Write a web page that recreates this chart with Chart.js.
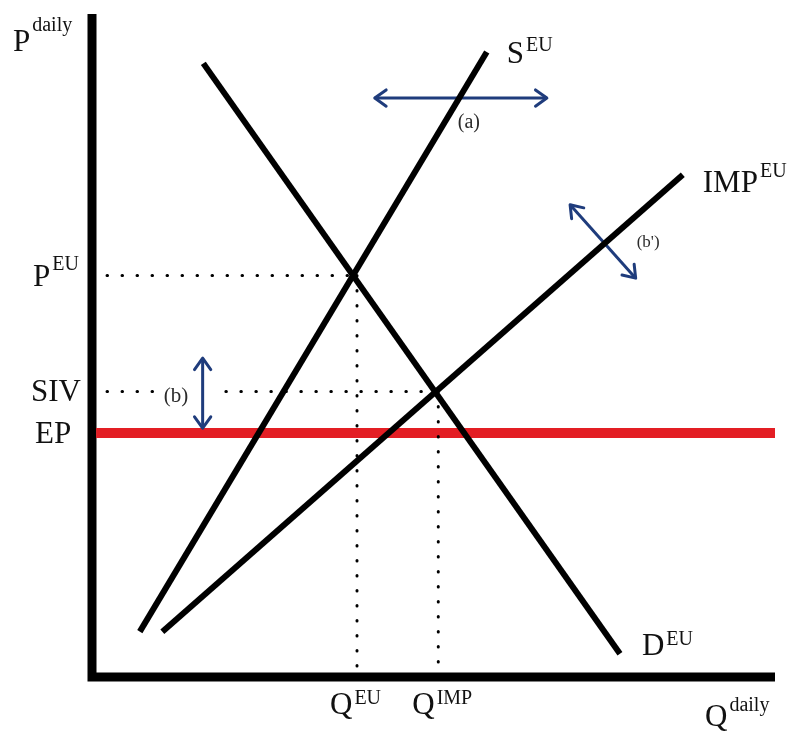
<!DOCTYPE html>
<html>
<head>
<meta charset="utf-8">
<script src="https://cdn.jsdelivr.net/npm/chart.js@4.4.1/dist/chart.umd.min.js"></script>
<style>
  html, body { margin: 0; padding: 0; background: #fff; }
  #chart { display: block; }
</style>
</head>
<body>
<canvas id="chart" width="793" height="731"></canvas>
<script>
// EU market diagram: supply, demand, import curve and entry price

// Curves (quantity, price) on a 0-100 scale
const demandX = [16.3, 77.3];
const demandY = [92.0, 3.5];
const supplyX = [7.0, 57.8];
const supplyY = [6.8, 93.7];
const importX = [10.3, 86.5];
const importY = [6.8, 75.3];

// Key price and quantity levels
const entryPrice = 36.6;   // EP
const sivPrice = 42.8;     // SIV
const euPrice = 60.2;      // P EU
const qEU = 38.8;
const qIMP = 50.7;

// Shift arrows [x1, y1, x2, y2]
const arrowA = [41.4, 86.8, 66.6, 86.8];
const arrowBPrime = [70.0, 70.8, 79.6, 59.8];
const arrowB = [16.2, 47.8, 16.2, 37.3];

const ink = '#000000';
const navy = '#1f3c7c';
const red = '#e31e24';
const serif = '"Liberation Serif", "DejaVu Serif", serif';

const pts = (xs, ys) => xs.map((x, i) => ({ x, y: ys[i] }));

const line = (data, color, width, extra = {}) => Object.assign({
  data,
  borderColor: color,
  borderWidth: width,
  pointRadius: 0,
  fill: false,
  tension: 0,
  clip: false
}, extra);

const dotted = { borderDash: [0.5, 14.5], borderCapStyle: 'round' };

// Labels: main text + superscript, anchored to a data point with pixel offsets
const labels = [
  { main: 'P', sup: 'daily', at: [0, 100], dx: -79, dy: 41, supDy: 20 },
  { main: 'S', sup: 'EU', at: [supplyX[1], supplyY[1]], dx: 20, dy: 11, supDy: 12 },
  { main: 'IMP', sup: 'EU', at: [importX[1], importY[1]], dx: 20, dy: 17, supDy: 15 },
  { main: 'D', sup: 'EU', at: [demandX[1], demandY[1]], dx: 22, dy: 1, supDy: 10 },
  { main: 'P', sup: 'EU', at: [0, euPrice], dx: -59, dy: 11, supDy: 16 },
  { main: 'SIV', sup: '', at: [0, sivPrice], dx: -61, dy: 9 },
  { main: 'EP', sup: '', at: [0, entryPrice], dx: -57, dy: 10 },
  { main: 'Q', sup: 'EU', at: [qEU, 0], dx: -27, dy: 37, supDy: 10 },
  { main: 'Q', sup: 'IMP', at: [qIMP, 0], dx: -26, dy: 37, supDy: 10 },
  { main: 'Q', sup: 'daily', at: [100, 0], dx: -70, dy: 49, supDy: 15 }
];

const notes = [
  { text: '(a)', size: 20, at: [arrowA[0], arrowA[1]], dx: 83, dy: 30 },
  { text: "(b')", size: 17, at: [arrowBPrime[2], arrowBPrime[3]], dx: 1, dy: -31 },
  { text: '(b)', size: 21, at: [arrowB[0], sivPrice], dx: -39, dy: 10 }
];

const arrows = [arrowA, arrowBPrime, arrowB];

const annotationPlugin = {
  id: 'annotations',
  afterDatasetsDraw(chart) {
    const { ctx, scales: { x, y } } = chart;
    ctx.save();
    // arrow heads (open chevrons at both ends)
    ctx.strokeStyle = navy;
    ctx.lineWidth = 3;
    ctx.lineCap = 'round';
    ctx.lineJoin = 'round';
    arrows.forEach(a => {
      const p1 = [x.getPixelForValue(a[0]), y.getPixelForValue(a[1])];
      const p2 = [x.getPixelForValue(a[2]), y.getPixelForValue(a[3])];
      [[p1, p2], [p2, p1]].forEach(([tip, from]) => {
        const ang = Math.atan2(tip[1] - from[1], tip[0] - from[0]);
        const len = 14, spread = 0.62;
        ctx.beginPath();
        ctx.moveTo(tip[0] - len * Math.cos(ang - spread), tip[1] - len * Math.sin(ang - spread));
        ctx.lineTo(tip[0], tip[1]);
        ctx.lineTo(tip[0] - len * Math.cos(ang + spread), tip[1] - len * Math.sin(ang + spread));
        ctx.stroke();
      });
    });
    ctx.restore();
  },
  afterDraw(chart) {
    const { ctx, scales: { x, y } } = chart;
    ctx.save();
    ctx.fillStyle = '#111';
    ctx.textBaseline = 'alphabetic';
    ctx.textAlign = 'left';
    labels.forEach(l => {
      const px = x.getPixelForValue(l.at[0]) + l.dx;
      const py = y.getPixelForValue(l.at[1]) + l.dy;
      ctx.font = `31px ${serif}`;
      ctx.fillText(l.main, px, py);
      if (l.sup) {
        const w = ctx.measureText(l.main).width;
        ctx.font = `20px ${serif}`;
        ctx.fillText(l.sup, px + w + 2, py - l.supDy);
      }
    });
    ctx.fillStyle = '#2b2b2b';
    notes.forEach(n => {
      ctx.font = `${n.size}px ${serif}`;
      ctx.fillText(n.text, x.getPixelForValue(n.at[0]) + n.dx, y.getPixelForValue(n.at[1]) + n.dy);
    });
    ctx.restore();
  }
};

new Chart(document.getElementById('chart'), {
  type: 'line',
  data: {
    datasets: [
      // dotted guides
      line([{ x: 2.2, y: euPrice }, { x: qEU, y: euPrice }], ink, 3, dotted),
      line([{ x: qEU, y: euPrice }, { x: qEU, y: 0 }], ink, 3, dotted),
      line([{ x: 2.2, y: sivPrice }, { x: 9.5, y: sivPrice }], ink, 3, dotted),
      line([{ x: 19.6, y: sivPrice }, { x: qIMP, y: sivPrice }], ink, 3, dotted),
      line([{ x: qIMP, y: sivPrice }, { x: qIMP, y: 0 }], ink, 3, dotted),
      // curves
      line(pts(demandX, demandY), ink, 6),
      line(pts(supplyX, supplyY), ink, 6),
      line(pts(importX, importY), ink, 6),
      // entry price
      line([{ x: 0.6, y: entryPrice }, { x: 100, y: entryPrice }], red, 10),
      // arrow shafts
      ...arrows.map(a => line([{ x: a[0], y: a[1] }, { x: a[2], y: a[3] }], navy, 3)),
      // axes
      line([{ x: 0, y: 99.4 }, { x: 0, y: 0 }, { x: 100, y: 0 }], ink, 9, { borderCapStyle: 'butt', borderJoinStyle: 'miter' })
    ]
  },
  options: {
    responsive: false,
    animation: false,
    devicePixelRatio: 1,
    layout: { padding: { left: 92, top: 10, right: 18, bottom: 54 } },
    plugins: { legend: { display: false }, tooltip: { enabled: false } },
    scales: {
      x: { type: 'linear', min: 0, max: 100, display: false },
      y: { type: 'linear', min: 0, max: 100, display: false }
    }
  },
  plugins: [annotationPlugin]
});
</script>
</body>
</html>
